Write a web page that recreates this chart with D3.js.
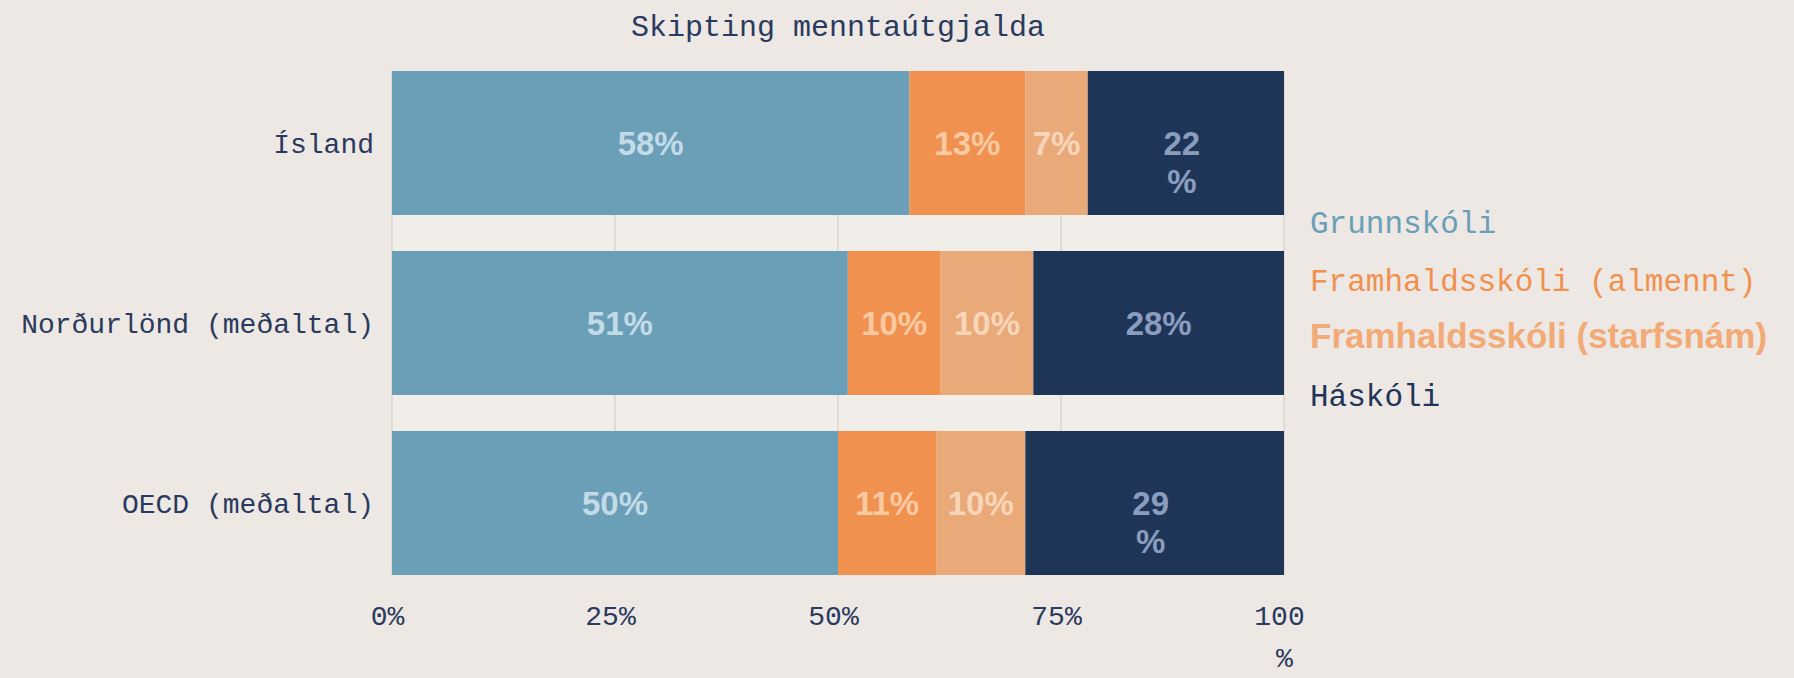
<!DOCTYPE html>
<html lang="is">
<head>
<meta charset="UTF-8">
<title>Skipting menntaútgjalda</title>
<style>
    body {
        margin: 0;
        background: #ede8e4;
        overflow: hidden;
    }
    svg {
        display: block;
    }
    .mono {
        font-family: "Liberation Mono", "Courier New", monospace;
        fill: #2a3a5e;
    }
    .barlabel {
        font-family: "Liberation Sans", Arial, sans-serif;
        font-weight: bold;
        font-size: 33px;
    }
</style>
</head>
<body>
<svg id="chart" width="1794" height="678"></svg>

<script src="https://d3js.org/d3.v7.min.js"></script>
<script>
    // data
    const categories = ["Ísland", "Norðurlönd (meðaltal)", "OECD (meðaltal)"];
    const seriesNames = ["Grunnskóli", "Framhaldsskóli (almennt)", "Framhaldsskóli (starfsnám)", "Háskóli"];
    const grunnskoli = [58, 51.1, 50];
    const framhAlmennt = [13, 10.4, 11];
    const framhStarfs = [7, 10.4, 10];
    const haskoli = [22, 28.1, 29];
    const xTicks = [0, 25, 50, 75, 100];
    // labels that break onto a second line in the original
    const wrapped = [[0, 3], [2, 3]];

    const colors = ["#6a9fb7", "#f0914f", "#e9a978", "#1f3558"];
    const labelColors = ["#c3dbe8", "#f9c9a2", "#f8d6ba", "#8b9dbf"];
    const legendColors = ["#6a9fb7", "#f0914f", "#f2aa77", "#1f3558"];

    const rows = categories.map((c, i) => ({
        cat: c,
        s0: grunnskoli[i],
        s1: framhAlmennt[i],
        s2: framhStarfs[i],
        s3: haskoli[i]
    }));
    const keys = ["s0", "s1", "s2", "s3"];
    const stacked = d3.stack().keys(keys)(rows);

    const svg = d3.select("#chart");

    const x = d3.scaleLinear().domain([0, 100]).range([392, 1284]);
    const y = d3.scaleBand().domain(categories).range([53, 593])
        .paddingInner(0.2).paddingOuter(0.1);

    const plotTop = y(categories[0]);
    const plotBottom = y(categories[categories.length - 1]) + y.bandwidth();

    // plot background
    svg.append("rect")
        .attr("x", x(0))
        .attr("y", plotTop)
        .attr("width", x(100) - x(0))
        .attr("height", plotBottom - plotTop)
        .attr("fill", "#f1ede9");

    // gridlines
    svg.append("g")
        .selectAll("line")
        .data(xTicks)
        .join("line")
        .attr("x1", d => x(d))
        .attr("x2", d => x(d))
        .attr("y1", plotTop)
        .attr("y2", plotBottom)
        .attr("stroke", "#d9d4d0")
        .attr("stroke-width", 1.5);

    // bars
    const layers = svg.append("g")
        .selectAll("g")
        .data(stacked)
        .join("g")
        .attr("fill", (d, i) => colors[i]);

    layers.selectAll("rect")
        .data(d => d)
        .join("rect")
        .attr("x", d => x(d[0]))
        .attr("y", d => y(d.data.cat))
        .attr("width", d => x(d[1]) - x(d[0]))
        .attr("height", y.bandwidth());

    // bar labels
    const labelData = [];
    stacked.forEach((layer, si) => {
        layer.forEach((d, ci) => {
            labelData.push({
                si: si,
                ci: ci,
                cx: (x(d[0]) + x(d[1])) / 2,
                cy: y(d.data.cat) + y.bandwidth() / 2,
                text: Math.round(d[1] - d[0]) + "%",
                wrap: wrapped.some(w => w[0] === ci && w[1] === si)
            });
        });
    });

    const barLabels = svg.append("g")
        .selectAll("text")
        .data(labelData)
        .join("text")
        .attr("class", "barlabel")
        .attr("text-anchor", "middle")
        .attr("x", d => d.cx)
        .attr("y", d => d.cy + 12)
        .attr("fill", d => labelColors[d.si]);

    barLabels.each(function (d) {
        const t = d3.select(this);
        if (d.wrap) {
            const num = d.text.replace("%", "");
            t.append("tspan").attr("x", d.cx - 4).text(num);
            t.append("tspan").attr("x", d.cx - 4).attr("dy", 38).text("%");
        } else {
            t.text(d.text);
        }
    });

    // y labels
    svg.append("g")
        .selectAll("text")
        .data(categories)
        .join("text")
        .attr("class", "mono")
        .attr("text-anchor", "end")
        .attr("x", 374)
        .attr("y", d => y(d) + y.bandwidth() / 2 + 10)
        .style("font-size", "28px")
        .text(d => d);

    // x axis
    const xAxis = svg.append("g")
        .attr("transform", `translate(0,${plotBottom})`)
        .call(d3.axisBottom(x).tickValues(xTicks).tickSize(0).tickFormat(d => d + "%"));
    xAxis.select(".domain").remove();
    xAxis.selectAll("text")
        .attr("class", "mono")
        .attr("dy", null)
        .attr("y", 50)
        .attr("dx", -5)
        .style("font-size", "28px")
        .attr("font-family", null)
        .each(function (d) {
            if (d === 100) {
                const t = d3.select(this);
                t.text(null);
                t.append("tspan").attr("x", 0).text("100");
                t.append("tspan").attr("x", 0).attr("dy", 42).text("%");
            }
        });

    // title
    svg.append("text")
        .attr("class", "mono")
        .attr("text-anchor", "middle")
        .attr("x", (x(0) + x(100)) / 2)
        .attr("y", 36)
        .style("font-size", "30px")
        .text("Skipting menntaútgjalda");

    // legend
    const legend = svg.append("g")
        .selectAll("text")
        .data(seriesNames)
        .join("text")
        .attr("x", 1310)
        .attr("y", (d, i) => 233 + i * 57.5)
        .attr("fill", (d, i) => legendColors[i])
        .style("font-family", (d, i) => i === 2 ? "'Liberation Sans', Arial, sans-serif" : "'Liberation Mono', 'Courier New', monospace")
        .style("font-weight", (d, i) => i === 2 ? "bold" : "normal")
        .style("font-size", (d, i) => i === 2 ? "35px" : "31px")
        .text(d => d);
</script>
</body>
</html>
